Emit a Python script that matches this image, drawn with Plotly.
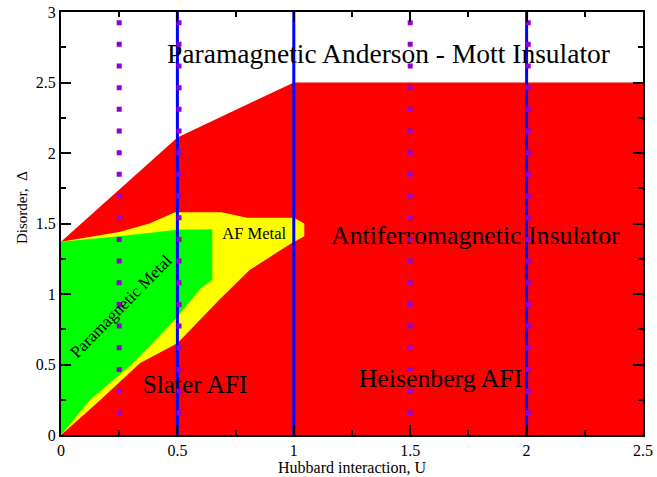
import plotly.graph_objects as go

# Phase regions (U, Delta)
red_u = [0, 2.5, 2.5, 1.0, 0.5, 0]
red_d = [0, 0, 2.5, 2.5, 2.11, 1.37]

yellow_u = [0, 0.15, 0.34, 0.5, 0.68, 0.81, 0.98, 1.045, 1.045, 1.0, 0.8, 0.69, 0.49, 0.38, 0.25, 0]
yellow_d = [0, 0.22, 0.51, 0.65, 0.96, 1.17, 1.35, 1.41, 1.50, 1.54, 1.54, 1.58, 1.58, 1.50, 1.44, 1.37]

green_u = [0, 0.125, 0.31, 0.49, 0.60, 0.65, 0.65, 0.5, 0.25, 0]
green_d = [0, 0.25, 0.51, 0.82, 1.04, 1.10, 1.46, 1.455, 1.41, 1.37]

# Vertical guide lines
blue_u = [0.5, 1.0, 2.0]
blue_range = [0, 3]
purple_u = [0.25, 0.507, 1.5, 2.007]
purple_range = [2.942, 0.14]

# Labels
labels = ["Paramagnetic Anderson - Mott Insulator", "Antiferromagnetic Insulator",
          "Slater AFI", "Heisenberg AFI", "AF Metal"]
label_u = [1.407, 1.78, 0.576, 1.63, 0.83]
label_d = [2.69, 1.40, 0.34, 0.383, 1.42]
label_size = [27.5, 25.8, 25.3, 25.8, 16.5]

x_ticks = [0, 0.5, 1, 1.5, 2, 2.5]
x_ticktext = ["0", "0.5", "1", "1.5", "2", "2.5"]
y_ticks = [0, 0.5, 1, 1.5, 2, 2.5, 3]
y_ticktext = ["0", "0.5", "1", "1.5", "2", "2.5", "3"]

FONT = "Liberation Serif, Times New Roman, serif"

fig = go.Figure()
fig.add_trace(go.Scatter(x=red_u, y=red_d, fill="toself", fillcolor="#ff0000",
                         line=dict(width=0), mode="lines", hoverinfo="skip"))
fig.add_trace(go.Scatter(x=yellow_u, y=yellow_d, fill="toself", fillcolor="#ffff00",
                         line=dict(width=0), mode="lines", hoverinfo="skip"))
fig.add_trace(go.Scatter(x=green_u, y=green_d, fill="toself", fillcolor="#00ff00",
                         line=dict(width=0), mode="lines", hoverinfo="skip"))
for u in blue_u:
    fig.add_trace(go.Scatter(x=[u, u], y=blue_range, mode="lines",
                             line=dict(color="#0000ff", width=3), hoverinfo="skip"))
for t, u, d, s in zip(labels, label_u, label_d, label_size):
    fig.add_trace(go.Scatter(x=[u], y=[d], mode="text", text=[t],
                             textposition="middle center",
                             textfont=dict(family=FONT, size=s, color="black"),
                             hoverinfo="skip"))
for u in purple_u:
    fig.add_trace(go.Scatter(x=[u, u], y=purple_range, mode="lines",
                             line=dict(color="#9400d3", width=5, dash="5px,16.67px"),
                             hoverinfo="skip"))

fig.add_annotation(x=0.258, y=0.91, xref="x", yref="y", text="Paramagnetic Metal",
                   showarrow=False, textangle=-45.5,
                   font=dict(family=FONT, size=17, color="black"))
fig.add_annotation(x=-0.067, y=1.61, xref="paper", yref="y", text="Disorder,  \u0394",
                   xanchor="center", yanchor="middle",
                   showarrow=False, textangle=-90,
                   font=dict(family=FONT, size=15, color="black"))

axis_common = dict(showline=True, linecolor="black", linewidth=2, mirror="ticks",
                   ticks="inside", ticklen=10, tickwidth=2, tickcolor="black",
                   showgrid=False, zeroline=False, automargin=False,
                   tickfont=dict(family=FONT, size=16, color="black"))
fig.update_xaxes(range=[0, 2.5], tickvals=x_ticks, ticktext=x_ticktext,
                 minor=dict(dtick=0.25, ticks="inside", ticklen=5, tickwidth=2, tickcolor="black"),
                 title=dict(text="Hubbard interaction, U", standoff=2,
                            font=dict(family=FONT, size=16, color="black")),
                 **axis_common)
fig.update_yaxes(range=[0, 3], tickvals=y_ticks, ticktext=y_ticktext,
                 minor=dict(dtick=0.25, ticks="inside", ticklen=5, tickwidth=2, tickcolor="black"),
                 **axis_common)
fig.update_layout(width=657, height=477, showlegend=False,
                  margin=dict(l=61, r=14, t=12, b=42, autoexpand=False),
                  plot_bgcolor="white", paper_bgcolor="white")
fig.write_html("out.html")
